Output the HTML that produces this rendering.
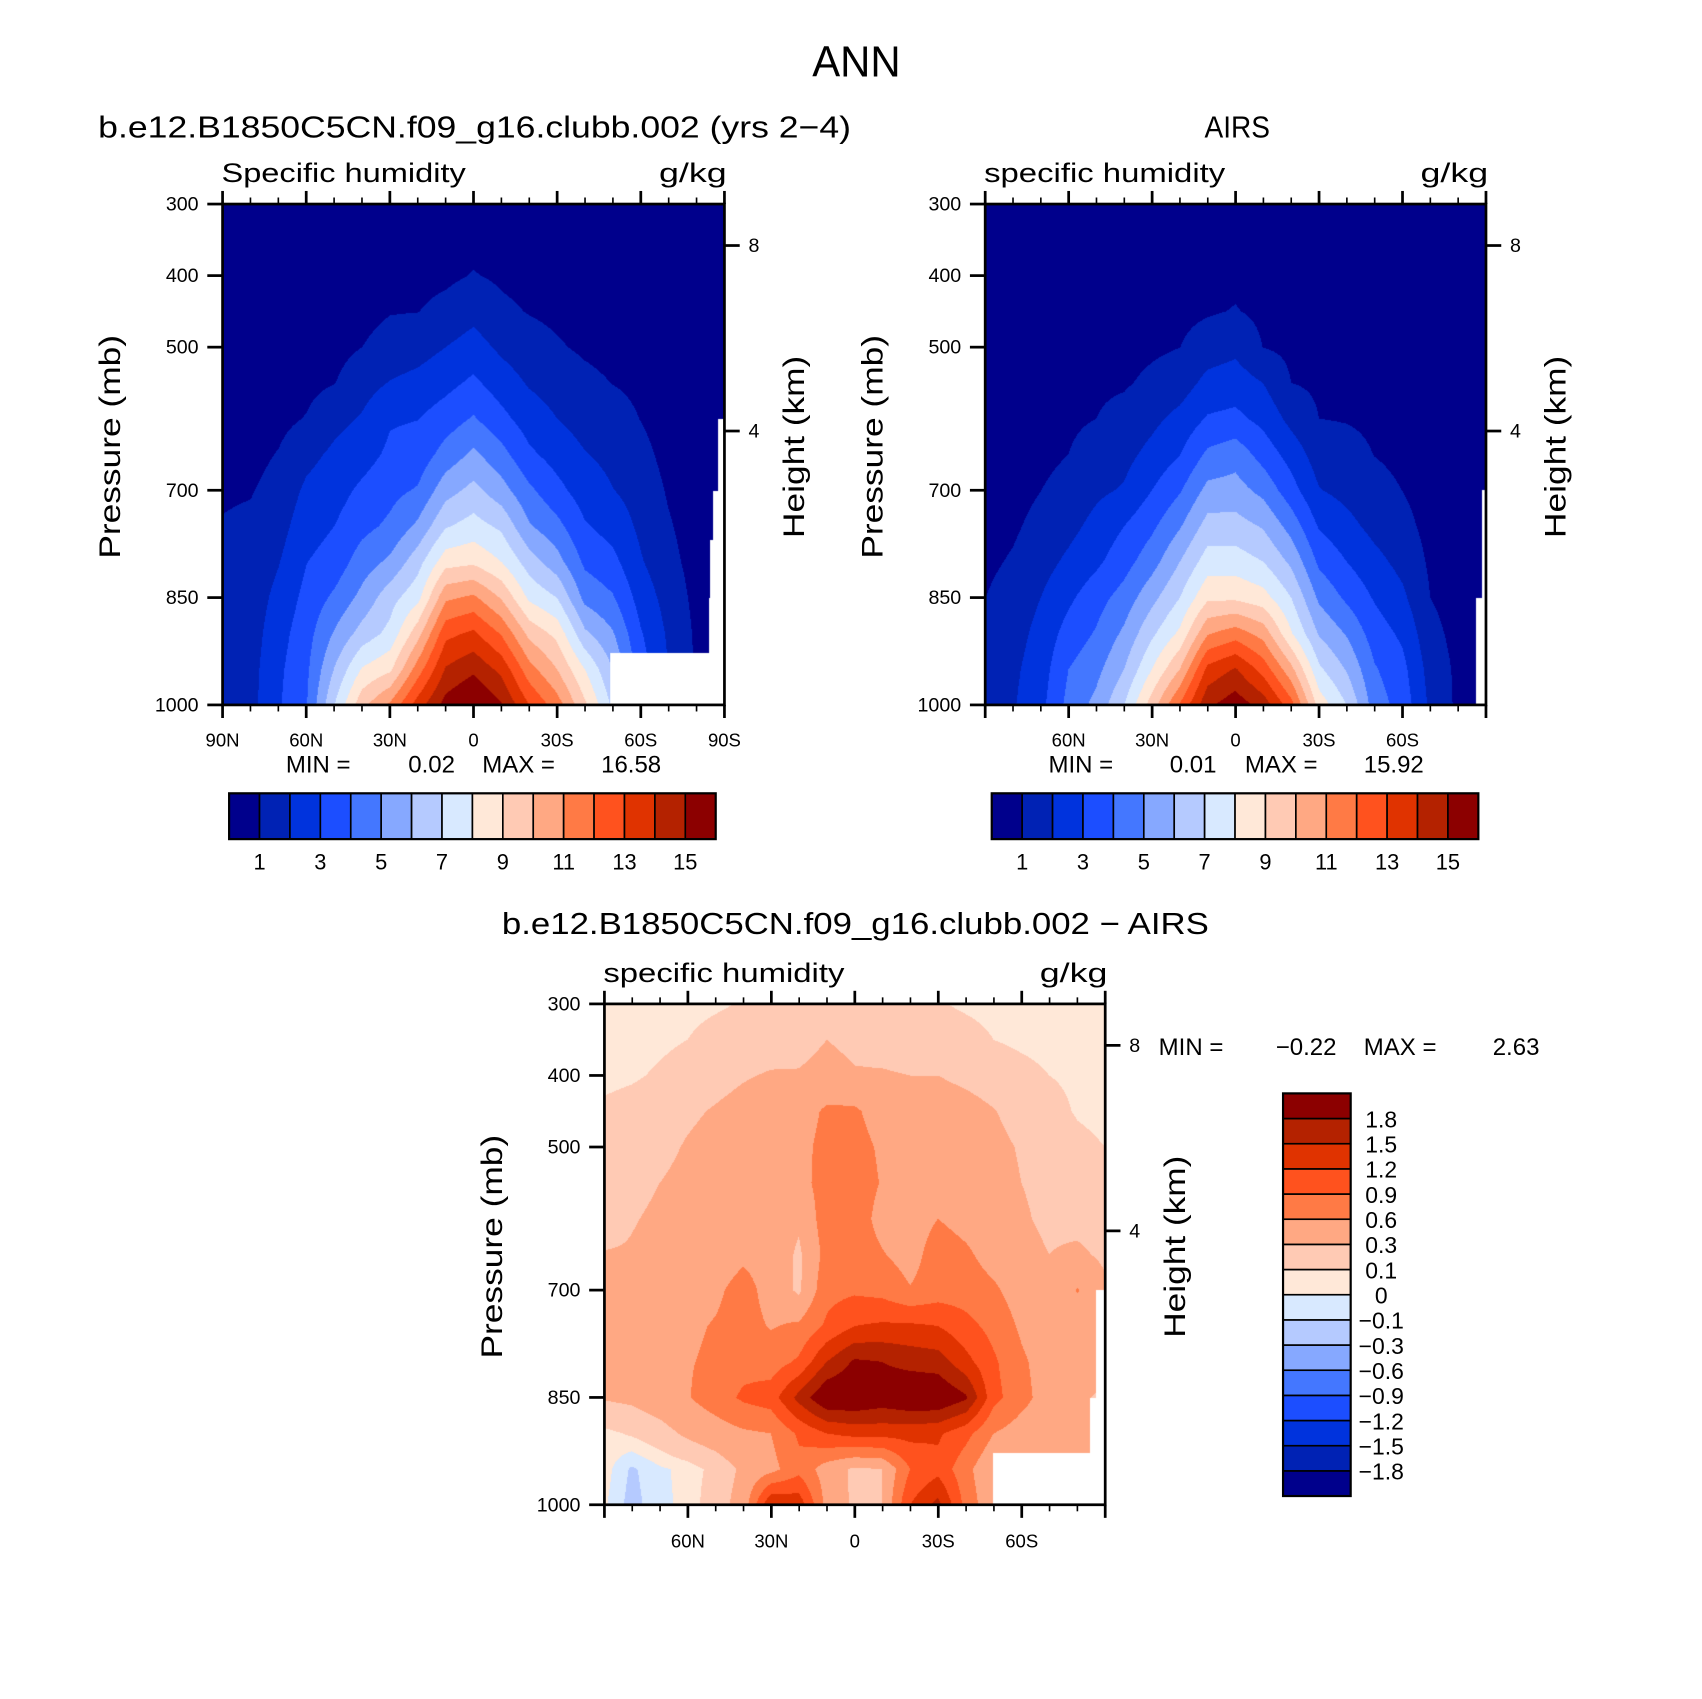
<!DOCTYPE html>
<html><head><meta charset="utf-8">
<style>
html,body{margin:0;padding:0;background:#fff;}
#wrap{position:relative;width:1702px;height:1699px;overflow:hidden;background:#fff;}
#wrap canvas{position:absolute;}
#fig{position:absolute;left:0;top:0;}
text{font-family:"Liberation Sans",sans-serif;fill:#000;}
</style></head>
<body>
<div id="wrap">
<canvas id="c1"></canvas>
<canvas id="c2"></canvas>
<canvas id="c3"></canvas>
<svg id="fig" width="1702" height="1699" viewBox="0 0 1560 1557" preserveAspectRatio="none" xmlns="http://www.w3.org/2000/svg"></svg>
</div>
<script>
// ---------- data ----------
const lats = [90,80,70,60,50,40,30,20,10,0,-10,-20,-30,-40,-50,-60,-70,-80,-90];
const plevs = [300,350,400,450,500,550,600,650,700,750,800,850,900,950,1000];
const qLevels = [1,2,3,4,5,6,7,8,9,10,11,12,13,14,15];
const qTickLabels = ["1","3","5","7","9","11","13","15"];
const dLevels = [-1.8,-1.5,-1.2,-0.9,-0.6,-0.3,-0.1,0,0.1,0.3,0.6,0.9,1.2,1.5,1.8];
const dTickLabels = ["−1.8","−1.5","−1.2","−0.9","−0.6","−0.3","−0.1","0","0.1","0.3","0.6","0.9","1.2","1.5","1.8"];
const colors = ["#00008c","#0022b4","#0033dd","#1c4eff","#4477ff","#86a8ff","#b5caff","#d8e9ff",
                "#ffe8d8","#ffcab4","#ffa883","#ff7a45","#ff521e","#e03300","#b42200","#8c0000"];
const latTickLabels = ["90N","60N","30N","0","30S","60S","90S"];
const latTickValues = [90,60,30,0,-30,-60,-90];
const presTicks = [300,400,500,700,850,1000];
// model specific humidity: one profile per latitude (300 -> 1000 mb)
const modelQ = [
[.05,.1,.12,.15,.2,.3,.45,.65,.9,1.05,1.15,1.25,1.3,1.35,1.4],
[.1,.12,.15,.2,.3,.4,.55,.75,.95,1.15,1.3,1.45,1.55,1.65,1.7],
[.1,.15,.2,.3,.4,.55,.75,1.05,1.3,1.6,1.95,2.3,2.6,2.8,2.9],
[.1,.2,.3,.4,.55,.75,1.05,1.7,2.2,2.6,2.98,3.3,3.6,3.8,3.95],
[.15,.25,.35,.5,.7,.97,1.7,2.2,2.6,3.0,3.4,4.2,5.1,6.05,7.0],
[.2,.35,.5,.7,1.0,1.6,2.1,2.6,3.2,3.7,4.5,5.3,6.4,8.1,9.7],
[.3,.45,.65,.95,1.4,2.05,2.9,3.2,3.7,4.2,5.2,6.6,7.3,8.8,11.2],
[.3,.5,.7,.98,1.6,2.3,2.98,3.4,4.1,5.2,6.6,7.7,9.6,11.5,13.5],
[.4,.6,.8,1.3,2.0,2.7,3.5,4.4,5.6,6.9,8.6,10.8,12.7,14.1,15.4],
[.5,.75,1.05,1.7,2.4,3.2,4.1,5.2,6.3,7.4,8.8,11.2,13.2,14.8,16.2],
[.4,.6,.85,1.2,1.8,2.5,3.3,4.35,5.4,6.8,8.0,9.9,11.9,13.7,15.1],
[.3,.5,.7,.95,1.4,1.9,2.5,3.2,4.2,5.1,6.5,7.8,9.7,11.4,13.0],
[.25,.4,.6,.8,1.1,1.6,2.0,2.6,3.3,4.3,5.4,7.0,8.7,10.0,11.5],
[.2,.3,.45,.6,.85,1.25,1.6,2.05,2.5,3.1,3.8,4.7,6.2,8.0,9.2],
[.15,.25,.35,.5,.7,.98,1.4,1.75,2.03,2.6,3.3,4.1,5.1,6.0,6.8],
[.1,.2,.3,.4,.6,.8,.98,1.3,1.6,1.8,2.1,2.6,3.1,3.5,3.8],
[.05,.1,.15,.2,.3,.4,.55,.7,.9,1.1,1.3,1.6,1.85,2.0,2.1],
[.05,.08,.1,.12,.15,.2,.25,.35,.45,.55,.65,.75,.85,.9,.9],
[.03,.05,.07,.1,.12,.15,.2,.25,.3,.35,.4,.45,.5,.5,.5]];
// AIRS specific humidity: one profile per latitude
const airsQ = [
[.05,.05,.08,.1,.15,.2,.3,.4,.5,.65,.8,.99,1.2,1.3,1.4],
[.05,.08,.1,.15,.2,.3,.4,.5,.65,.85,1.1,1.4,1.6,1.8,1.9],
[.05,.1,.15,.2,.3,.4,.55,.75,.99,1.3,1.6,2.0,2.3,2.5,2.7],
[.1,.15,.25,.35,.5,.7,.85,1.0,1.35,1.7,2.2,2.8,3.4,4.0,4.3],
[.1,.2,.3,.45,.65,.85,1.0,1.4,1.8,2.3,2.8,3.6,4.1,4.7,5.3],
[.15,.25,.35,.5,.7,.9,1.3,1.7,2.1,3.0,3.6,4.4,5.2,6.0,7.0],
[.2,.35,.5,.65,.85,1.2,1.75,2.3,3.0,3.8,4.6,5.7,6.8,8.0,9.5],
[.25,.4,.55,.75,.99,1.5,2.3,2.98,3.9,4.9,6.0,7.0,8.2,10.0,12.1],
[.3,.5,.7,.9,1.5,2.3,3.1,4.2,5.3,6.4,7.5,8.8,10.9,13.3,14.8],
[.38,.58,.8,1.05,1.75,2.5,3.25,4.6,5.4,6.4,7.5,8.8,11.5,14.1,15.6],
[.3,.45,.6,.8,.98,1.99,2.7,3.6,4.7,5.9,7.0,8.4,10.6,12.6,14.6],
[.2,.3,.45,.6,.8,1.0,1.7,2.6,3.4,4.6,5.8,7.0,8.1,10.3,12.4],
[.15,.25,.35,.5,.65,.85,1.0,1.5,2.05,2.9,3.8,4.8,5.9,7.2,8.6],
[.1,.2,.3,.4,.55,.75,.95,1.3,1.7,2.3,3.0,3.8,4.9,5.9,7.0],
[.1,.2,.3,.4,.5,.7,.85,.98,1.3,1.7,2.3,2.9,3.5,4.1,4.5],
[.05,.1,.2,.3,.4,.5,.65,.8,.99,1.3,1.7,2.2,2.8,3.3,3.6],
[.05,.05,.1,.15,.2,.3,.4,.5,.6,.7,.85,1.0,1.3,1.6,1.8],
[.03,.05,.07,.1,.12,.15,.2,.25,.3,.4,.5,.6,.7,.8,.8],
[.02,.03,.05,.07,.1,.12,.15,.2,.25,.3,.35,.4,.45,.5,.5]];
// model - AIRS difference: one row per pressure level (90N -> 90S)
const diffQ = [
[.03,.04,.05,.06,.08,.11,.12,.13,.13,.13,.13,.12,.11,.08,.06,.05,.04,.04,.04],
[.03,.04,.07,.1,.15,.18,.2,.22,.3,.25,.22,.2,.18,.15,.1,.07,.05,.05,.05],
[.06,.08,.12,.17,.22,.28,.32,.32,.38,.32,.32,.3,.3,.25,.2,.15,.1,.08,.07],
[.13,.16,.2,.26,.32,.38,.42,.45,.65,.65,.45,.42,.42,.38,.31,.22,.14,.09,.07],
[.15,.18,.24,.32,.38,.42,.45,.5,.7,.72,.55,.45,.45,.42,.36,.28,.2,.13,.1],
[.16,.22,.3,.36,.42,.45,.48,.5,.72,.75,.58,.48,.5,.45,.38,.3,.24,.2,.15],
[.15,.28,.35,.4,.42,.45,.48,.35,.75,.75,.5,.45,.6,.5,.42,.33,.25,.22,.2],
[.32,.33,.38,.42,.45,.55,.5,.25,.7,.75,.62,.48,.75,.65,.48,.38,.3,.35,.25],
[.35,.38,.4,.45,.55,.7,.5,.25,.8,.85,.8,.62,.75,.75,.65,.45,.3,.62,.35],
[.4,.42,.45,.55,.62,.7,.58,.65,.95,1.2,1.25,1.25,1.2,1.0,.8,.55,.4,.4,.4],
[.4,.42,.45,.58,.65,.8,.75,.95,1.5,1.85,1.8,1.7,1.65,1.3,.95,.65,.45,.42,.42],
[.32,.35,.45,.58,.75,.95,1.05,1.6,2.1,2.1,2.0,2.1,2.1,1.85,1.0,.7,.45,.35,.25],
[.06,.12,.2,.35,.45,.55,.6,.95,1.2,1.3,1.3,1.3,1.25,1.0,.6,.45,.4,.35,.25],
[.05,-.12,-.02,.03,.15,.35,.5,.8,.45,.25,.3,.9,1.1,.7,.3,.3,.3,.3,.3],
[.02,-.15,-.02,.02,.2,.4,1.5,1.4,.5,.25,.3,1.2,1.6,.8,.35,.35,.35,.35,.35]];
// missing-data (below ground) regions: [lat from, lat to, pressure from]
const modelMask = [[-49.3,-90,927],[-87.7,-90,600],[-86,-90,701],[-85,-90,770],[-84.5,-90,850]];
const airsMask = [[-88.4,-90,700],[-86.5,-90,850]];
const diffMask = [[-49.8,-90,927],[-84.5,-90,851],[-86.6,-90,700]];

// ---------- layout ----------
const SX = 1702/1560, SY = 1699/1557;
const panels = [
 {id:'model', x0:204, y0:187, w:460, h:459, grid:modelQ, byLat:true, levels:qLevels, mask:modelMask, canvas:'c1'},
 {id:'airs', x0:903, y0:187, w:459, h:459, grid:airsQ, byLat:true, levels:qLevels, mask:airsMask, canvas:'c2'},
 {id:'diff', x0:554, y0:920, w:459, h:459, grid:diffQ, byLat:false, levels:dLevels, mask:diffMask, canvas:'c3'}];
function xOf(P, lat){ return P.x0 + (90-lat)/180*P.w; }
function yOf(P, p){ return P.y0 + (p-300)/700*P.h; }

function gv(P,i,j){ return P.byLat ? P.grid[i][j] : P.grid[j][i]; }
function sample(P, lat, p){
  let fi=(lats[0]-lat)/(lats[0]-lats[1]); let fj=(p-plevs[0])/(plevs[1]-plevs[0]);
  fi=Math.max(0,Math.min(lats.length-1.0001,fi)); fj=Math.max(0,Math.min(plevs.length-1.0001,fj));
  const i=Math.floor(fi), j=Math.floor(fj), a=fi-i, b=fj-j;
  return gv(P,i,j)*(1-a)*(1-b)+gv(P,i+1,j)*a*(1-b)+gv(P,i,j+1)*(1-a)*b+gv(P,i+1,j+1)*a*b;
}
function hexRGB(h){ return [parseInt(h.substr(1,2),16),parseInt(h.substr(3,2),16),parseInt(h.substr(5,2),16)]; }
const rgb = colors.map(hexRGB);

panels.forEach(P=>{
  const cv=document.getElementById(P.canvas);
  const L=P.x0*SX, T=P.y0*SY, CW=P.w*SX, CH=P.h*SY;
  cv.style.left=L+'px'; cv.style.top=T+'px'; cv.style.width=CW+'px'; cv.style.height=CH+'px';
  const w=Math.round(CW), h=Math.round(CH); cv.width=w; cv.height=h;
  const ctx=cv.getContext('2d'); const img=ctx.createImageData(w,h);
  for(let y=0;y<h;y++){ const p=300+(y+0.5)/h*700;
    for(let x=0;x<w;x++){ const lat=90-(x+0.5)/w*180; const k=(y*w+x)*4;
      let masked=false;
      for(const m of P.mask){ if(lat<=m[0]&&lat>=m[1]&&p>=m[2]){masked=true;break;} }
      let c=[255,255,255];
      if(!masked){ const v=sample(P,lat,p); let b=0; while(b<P.levels.length&&v>=P.levels[b]) b++; c=rgb[b]; }
      img.data[k]=c[0];img.data[k+1]=c[1];img.data[k+2]=c[2];img.data[k+3]=255; } }
  ctx.putImageData(img,0,0);
});

// ---------- svg decorations ----------
const svg=document.getElementById('fig'); const NS='http://www.w3.org/2000/svg';
function el(tag,attrs,parent){ const e=document.createElementNS(NS,tag); for(const k in attrs) e.setAttribute(k,attrs[k]); (parent||svg).appendChild(e); return e; }
function txt(s,attrs,parent){ const e=el('text',attrs,parent); e.textContent=s; return e; }

let t;
t=txt('ANN',{x:785,y:70,'font-size':40,'text-anchor':'middle',textLength:81,lengthAdjust:'spacingAndGlyphs'});
 
t=txt('b.e12.B1850C5CN.f09_g16.clubb.002 (yrs 2−4)',{x:90,y:126,'font-size':28,textLength:690,lengthAdjust:'spacingAndGlyphs'});
 
t=txt('AIRS',{x:1104,y:126,'font-size':28,textLength:60,lengthAdjust:'spacingAndGlyphs'});
 
t=txt('b.e12.B1850C5CN.f09_g16.clubb.002 − AIRS',{x:460,y:856,'font-size':28,textLength:648,lengthAdjust:'spacingAndGlyphs'});
 

const minmax = {model:['0.02','16.58',708,262,417,442,606], airs:['0.01','15.92',708,961,1115,1141,1305], diff:['−0.22','2.63',967,1062,1225,1250,1411]};
const varNames = {model:'Specific humidity', airs:'specific humidity', diff:'specific humidity'};

panels.forEach(P=>{
  const g=el('g',{});
   
  // frame
  const fr=el('rect',{x:P.x0,y:P.y0,width:P.w,height:P.h,fill:'none',stroke:'#000','stroke-width':2.5},g);
   
  // lat ticks
  for(let lat=90;lat>=-90;lat-=10){ const x=xOf(P,lat); const major=(lat%30===0); const len=major?12:6;
    const a=el('line',{x1:x,y1:P.y0,x2:x,y2:P.y0-len,stroke:'#000','stroke-width':major?2.5:1.5},g);
     
    const b=el('line',{x1:x,y1:P.y0+P.h,x2:x,y2:P.y0+P.h+len,stroke:'#000','stroke-width':major?2.5:1.5},g);
      }
  const ylab = P.id==='diff'?1418:684;
  latTickValues.forEach((v,i)=>{ if(P.id!=='model' && Math.abs(v)===90) return;
    const l=txt(latTickLabels[i],{x:xOf(P,v),y:ylab,'font-size':17,'text-anchor':'middle'},g);
      });
  // pressure ticks
  presTicks.forEach(p=>{ const y=yOf(P,p);
    const a=el('line',{x1:P.x0-14,y1:y,x2:P.x0,y2:y,stroke:'#000','stroke-width':2.5},g);
     
    const l=txt(String(p),{x:P.x0-22,y:y+6,'font-size':18,'text-anchor':'end'},g);
      });
  // height ticks
  [[8,38],[4,208]].forEach(hk=>{ const y=P.y0+hk[1]; const x=P.x0+P.w;
    const a=el('line',{x1:x,y1:y,x2:x+14,y2:y,stroke:'#000','stroke-width':2.5},g);
     
    const l=txt(String(hk[0]),{x:x+22,y:y+6,'font-size':18},g);
      });
  // axis titles
  const cy=P.y0+P.h/2-12;
  const pt=txt('Pressure (mb)',{x:0,y:0,'font-size':27,'text-anchor':'middle',textLength:205,lengthAdjust:'spacingAndGlyphs',transform:`translate(${P.x0-94},${cy+5}) rotate(-90)`},g);
   
  const ht=txt('Height (km)',{x:0,y:0,'font-size':27,'text-anchor':'middle',textLength:167,lengthAdjust:'spacingAndGlyphs',transform:`translate(${P.x0+P.w+73},${cy+5}) rotate(-90)`},g);
   
  // variable & units
  const vl=txt(varNames[P.id],{x:P.x0-1,y:P.y0-20,'font-size':25,textLength:P.id==='model'?224:221,lengthAdjust:'spacingAndGlyphs'},g);
   
  const ul=txt('g/kg',{x:P.x0+P.w+2,y:P.y0-20,'font-size':25,'text-anchor':'end',textLength:62,lengthAdjust:'spacingAndGlyphs'},g);
   
  // min max
  const mm=minmax[P.id];
  const m1=txt('MIN =',{x:mm[3],y:mm[2],'font-size':22},g);
   
  const m2=txt(mm[0],{x:mm[4],y:mm[2],'font-size':22,'text-anchor':'end'},g);
   
  const m3=txt('MAX =',{x:mm[5],y:mm[2],'font-size':22},g);
   
  const m4=txt(mm[1],{x:mm[6],y:mm[2],'font-size':22,'text-anchor':'end'},g);
   
});

// horizontal colorbars
[[210,'model'],[909,'airs']].forEach(cb=>{
  const g=el('g',{});
   
  const x0=cb[0], y0=727, W=446, H=42, bw=W/colors.length;
  colors.forEach((c,i)=>{ const r=el('rect',{x:x0+i*bw,y:y0,width:bw,height:H,fill:c,stroke:'#000','stroke-width':1.5},g);
      });
  el('rect',{x:x0,y:y0,width:W,height:H,fill:'none',stroke:'#000','stroke-width':2},g);
  qTickLabels.forEach(s=>{ const v=parseFloat(s); const idx=qLevels.indexOf(v)+1;
    const l=txt(s,{x:x0+idx*bw,y:797,'font-size':20,'text-anchor':'middle'},g);
      });
});
// vertical colorbar
(function(){
  const g=el('g',{});
   
  const x0=1176, y0=1002, W=62, H=369, bh=H/colors.length;
  colors.forEach((c,i)=>{ const r=el('rect',{x:x0,y:y0+H-(i+1)*bh,width:W,height:bh,fill:c,stroke:'#000','stroke-width':1.5},g);
      });
  el('rect',{x:x0,y:y0,width:W,height:H,fill:'none',stroke:'#000','stroke-width':2},g);
  dTickLabels.forEach((s,i)=>{ const y=y0+H-(i+1)*bh;
    const l=txt(s,{x:1266,y:y+8,'font-size':21,'text-anchor':'middle'},g);
      });
})();
</script>
</body></html>
